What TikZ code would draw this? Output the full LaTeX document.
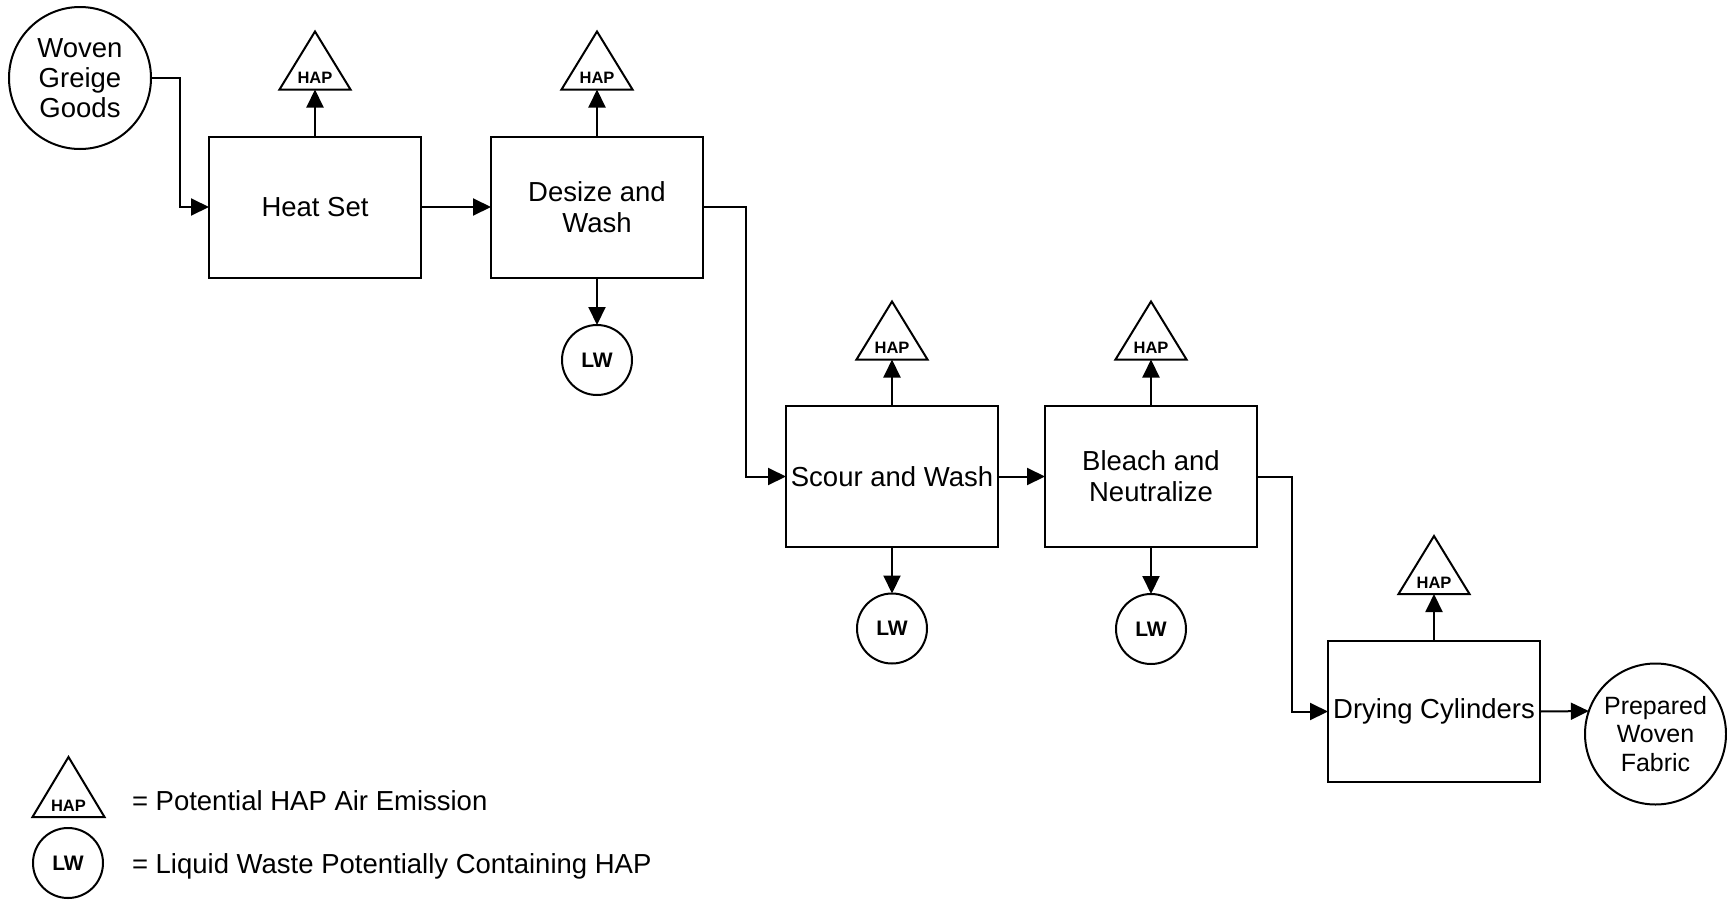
\documentclass[tikz,border=0pt]{standalone}
\usepackage{fontspec}
\setmainfont{Liberation Sans}
\usetikzlibrary{arrows.meta}
\begin{document}
\begin{tikzpicture}[x=1pt,y=-1pt,
  every node/.style={inner sep=0pt,outer sep=0pt},
  ln/.style={line width=2pt},
  arr/.style={ln,-{Triangle[length=18pt,width=17pt]}},
  tri/.style={ln,line join=miter},
  proc/.style={draw,ln,rectangle,minimum width=212pt,minimum height=141pt,align=center,font=\fontsize{27.5pt}{31pt}\selectfont},
  endpt/.style={draw,ln,circle,align=center},
  lw/.style={draw,ln,circle,minimum size=70pt,font=\bfseries\fontsize{21pt}{25pt}\selectfont},
  hapframe/.style={minimum width=71pt,minimum height=58pt},
  haptxt/.style={font=\bfseries\fontsize{16.5pt}{19pt}\selectfont},
  legtxt/.style={font=\fontsize{27.5pt}{31pt}\selectfont,anchor=base west}]
\useasboundingbox (0,0) rectangle (1727,900);

% start / end
\node[endpt,minimum size=142pt,font=\fontsize{27.5pt}{30pt}\selectfont] (woven) at (80,78) {Woven\\Greige\\Goods};
\node[endpt,minimum size=141pt,font=\fontsize{25pt}{28.5pt}\selectfont] (prep) at (1655.5,734) {Prepared\\Woven\\Fabric};

% process boxes
\node[proc] (heat) at (315,207) {Heat Set};
\node[proc] (desize) at (597,207) {Desize and\\Wash};
\node[proc] (scour) at (892,476.5) {Scour and Wash};
\node[proc] (bleach) at (1151,476.5) {Bleach and\\Neutralize};
\node[proc] (dry) at (1434,711.5) {Drying Cylinders};

% HAP emission triangles (frames)
\node[hapframe] (h1) at (315,60.5) {};
\node[hapframe] (h2) at (597,60.5) {};
\node[hapframe] (h3) at (892,330.5) {};
\node[hapframe] (h4) at (1151,330.5) {};
\node[hapframe] (h5) at (1434,565) {};
\node[hapframe,minimum width=72pt,minimum height=60pt] (hl) at (68.5,787) {};
\foreach \n in {h1,h2,h3,h4,h5,hl}{
  \draw[tri] (\n.south west) -- (\n.north) -- (\n.south east) -- cycle;
  \node[haptxt] at ([yshift=11.5pt]\n.south) {HAP};
}

% liquid waste
\node[lw] (l1) at (597,360) {LW};
\node[lw] (l2) at (892,628.5) {LW};
\node[lw] (l3) at (1151,629) {LW};
\node[lw] (ll) at (68,863) {LW};

% legend text
\node[legtxt] (t1) at (132,810) {= Potential HAP Air Emission};
\node[legtxt] (t2) at (132,873) {= Liquid Waste Potentially Containing HAP};

% main flow
\draw[arr] (woven.east) -- ++(29,0) |- (heat.west);
\draw[arr] (heat.east) -- (desize.west);
\draw[arr] (desize.east) -- ++(43,0) |- (scour.west);
\draw[arr] (scour.east) -- (bleach.west);
\draw[arr] (bleach.east) -- ++(35,0) |- (dry.west);
\draw[arr] (dry.east) -- (prep.161);

% emissions
\draw[arr] (heat.north) -- (h1.south);
\draw[arr] (desize.north) -- (h2.south);
\draw[arr] (scour.north) -- (h3.south);
\draw[arr] (bleach.north) -- (h4.south);
\draw[arr] (dry.north) -- (h5.south);

% liquid waste
\draw[arr] (desize.south) -- (l1.north);
\draw[arr] (scour.south) -- (l2.north);
\draw[arr] (bleach.south) -- (l3.north);
\end{tikzpicture}
\end{document}
